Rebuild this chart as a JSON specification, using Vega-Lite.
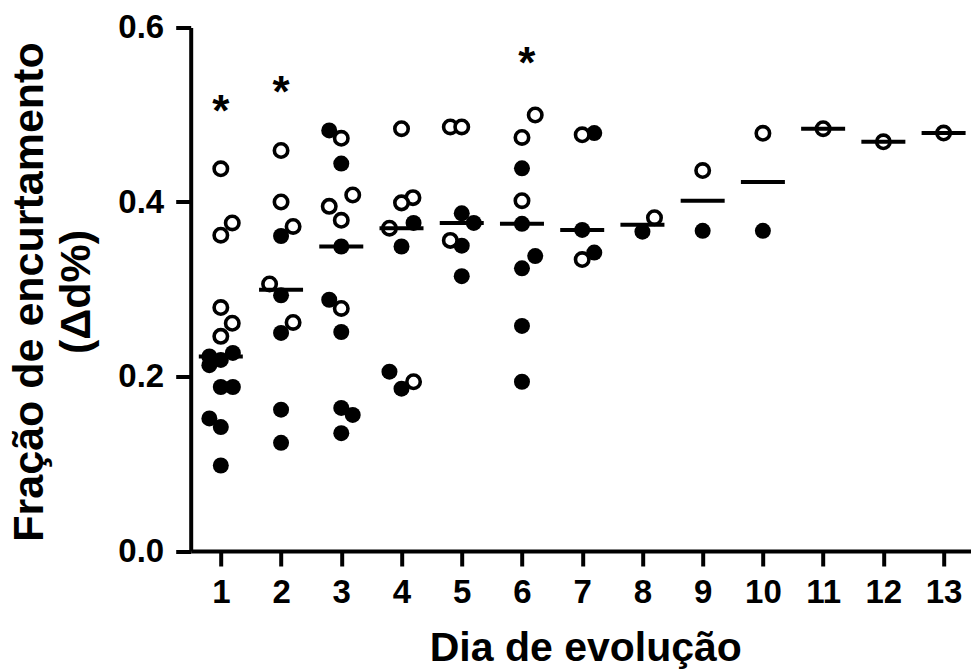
{
  "$schema": "https://vega.github.io/schema/vega-lite/v6.json",
  "autosize": {"type": "none"},
  "width": 780,
  "height": 523.5,
  "padding": {"left": 190.7, "top": 27.5, "right": 0.3, "bottom": 120},
  "background": "white",
  "config": {
    "view": {"stroke": null},
    "font": "Liberation Sans",
    "axis": {
      "domainColor": "black",
      "domainWidth": 4,
      "tickColor": "black",
      "tickWidth": 4,
      "tickSize": 15,
      "grid": false,
      "labelFont": "Liberation Sans",
      "labelFontSize": 33,
      "labelFontWeight": "bold",
      "labelColor": "black",
      "titleFont": "Liberation Sans",
      "titleFontWeight": "bold",
      "titleColor": "black"
    }
  },
  "datasets": {
    "pts": [
      {"day": 1, "pos": 0.81, "value": 0.223, "group": "filled"},
      {"day": 1, "pos": 0.81, "value": 0.213, "group": "filled"},
      {"day": 1, "pos": 1.0, "value": 0.219, "group": "filled"},
      {"day": 1, "pos": 1.2, "value": 0.227, "group": "filled"},
      {"day": 1, "pos": 1.0, "value": 0.188, "group": "filled"},
      {"day": 1, "pos": 1.2, "value": 0.188, "group": "filled"},
      {"day": 1, "pos": 0.81, "value": 0.152, "group": "filled"},
      {"day": 1, "pos": 1.0, "value": 0.142, "group": "filled"},
      {"day": 1, "pos": 1.0, "value": 0.098, "group": "filled"},
      {"day": 1, "pos": 1.0, "value": 0.438, "group": "open"},
      {"day": 1, "pos": 1.19, "value": 0.376, "group": "open"},
      {"day": 1, "pos": 1.0, "value": 0.362, "group": "open"},
      {"day": 1, "pos": 1.0, "value": 0.279, "group": "open"},
      {"day": 1, "pos": 1.19, "value": 0.261, "group": "open"},
      {"day": 1, "pos": 1.0, "value": 0.246, "group": "open"},
      {"day": 2, "pos": 2.0, "value": 0.361, "group": "filled"},
      {"day": 2, "pos": 2.0, "value": 0.293, "group": "filled"},
      {"day": 2, "pos": 2.0, "value": 0.25, "group": "filled"},
      {"day": 2, "pos": 2.0, "value": 0.162, "group": "filled"},
      {"day": 2, "pos": 2.0, "value": 0.124, "group": "filled"},
      {"day": 2, "pos": 2.0, "value": 0.459, "group": "open"},
      {"day": 2, "pos": 2.0, "value": 0.4, "group": "open"},
      {"day": 2, "pos": 2.2, "value": 0.372, "group": "open"},
      {"day": 2, "pos": 1.81, "value": 0.306, "group": "open"},
      {"day": 2, "pos": 2.2, "value": 0.262, "group": "open"},
      {"day": 3, "pos": 2.8, "value": 0.482, "group": "filled"},
      {"day": 3, "pos": 3.0, "value": 0.444, "group": "filled"},
      {"day": 3, "pos": 3.0, "value": 0.349, "group": "filled"},
      {"day": 3, "pos": 2.8, "value": 0.288, "group": "filled"},
      {"day": 3, "pos": 3.0, "value": 0.251, "group": "filled"},
      {"day": 3, "pos": 3.0, "value": 0.164, "group": "filled"},
      {"day": 3, "pos": 3.19, "value": 0.156, "group": "filled"},
      {"day": 3, "pos": 3.0, "value": 0.135, "group": "filled"},
      {"day": 3, "pos": 3.0, "value": 0.473, "group": "open"},
      {"day": 3, "pos": 3.19, "value": 0.408, "group": "open"},
      {"day": 3, "pos": 2.8, "value": 0.395, "group": "open"},
      {"day": 3, "pos": 3.0, "value": 0.379, "group": "open"},
      {"day": 3, "pos": 3.0, "value": 0.278, "group": "open"},
      {"day": 4, "pos": 4.2, "value": 0.376, "group": "filled"},
      {"day": 4, "pos": 4.0, "value": 0.349, "group": "filled"},
      {"day": 4, "pos": 3.8, "value": 0.2055, "group": "filled"},
      {"day": 4, "pos": 4.0, "value": 0.186, "group": "filled"},
      {"day": 4, "pos": 4.0, "value": 0.484, "group": "open"},
      {"day": 4, "pos": 4.19, "value": 0.405, "group": "open"},
      {"day": 4, "pos": 4.0, "value": 0.399, "group": "open"},
      {"day": 4, "pos": 3.8, "value": 0.37, "group": "open"},
      {"day": 4, "pos": 4.2, "value": 0.194, "group": "open"},
      {"day": 5, "pos": 5.0, "value": 0.387, "group": "filled"},
      {"day": 5, "pos": 5.2, "value": 0.376, "group": "filled"},
      {"day": 5, "pos": 5.0, "value": 0.35, "group": "filled"},
      {"day": 5, "pos": 5.0, "value": 0.315, "group": "filled"},
      {"day": 5, "pos": 4.81, "value": 0.486, "group": "open"},
      {"day": 5, "pos": 5.0, "value": 0.486, "group": "open"},
      {"day": 5, "pos": 4.81, "value": 0.356, "group": "open"},
      {"day": 6, "pos": 6.0, "value": 0.4386, "group": "filled"},
      {"day": 6, "pos": 6.0, "value": 0.375, "group": "filled"},
      {"day": 6, "pos": 6.22, "value": 0.338, "group": "filled"},
      {"day": 6, "pos": 6.0, "value": 0.324, "group": "filled"},
      {"day": 6, "pos": 6.0, "value": 0.258, "group": "filled"},
      {"day": 6, "pos": 6.0, "value": 0.194, "group": "filled"},
      {"day": 6, "pos": 6.22, "value": 0.4997, "group": "open"},
      {"day": 6, "pos": 6.0, "value": 0.474, "group": "open"},
      {"day": 6, "pos": 6.0, "value": 0.4015, "group": "open"},
      {"day": 7, "pos": 7.2, "value": 0.479, "group": "filled"},
      {"day": 7, "pos": 7.0, "value": 0.368, "group": "filled"},
      {"day": 7, "pos": 7.2, "value": 0.342, "group": "filled"},
      {"day": 7, "pos": 7.0, "value": 0.477, "group": "open"},
      {"day": 7, "pos": 7.0, "value": 0.334, "group": "open"},
      {"day": 8, "pos": 8.0, "value": 0.366, "group": "filled"},
      {"day": 8, "pos": 8.2, "value": 0.382, "group": "open"},
      {"day": 9, "pos": 9.0, "value": 0.367, "group": "filled"},
      {"day": 9, "pos": 9.0, "value": 0.436, "group": "open"},
      {"day": 10, "pos": 10.0, "value": 0.367, "group": "filled"},
      {"day": 10, "pos": 10.0, "value": 0.4787, "group": "open"},
      {"day": 11, "pos": 11.0, "value": 0.484, "group": "open"},
      {"day": 12, "pos": 12.0, "value": 0.469, "group": "open"},
      {"day": 13, "pos": 13.0, "value": 0.479, "group": "open"}
    ],
    "stars": [
      {"pos": 1.0, "value": 0.515, "label": "*"},
      {"pos": 2.0, "value": 0.536, "label": "*"},
      {"pos": 6.08, "value": 0.57, "label": "*"}
    ]
  },
  "layer": [
    {
      "data": {"name": "pts"},
      "transform": [{"filter": "datum.group === 'filled'"}],
      "mark": {"type": "point", "shape": "circle", "filled": true, "color": "black", "size": 256, "opacity": 1},
      "encoding": {
        "x": {
          "field": "pos", "type": "quantitative",
          "scale": {"domain": [0.5, 13.45], "nice": false, "zero": false},
          "axis": {
            "values": [1, 2, 3, 4, 5, 6, 7, 8, 9, 10, 11, 12, 13],
            "format": "d",
            "domainWidth": 4,
            "tickWidth": 4,
            "tickSize": 15,
            "labelPadding": 10,
            "title": "Dia de evolução",
            "titleFontSize": 41,
            "titleX": 394.6,
            "titleY": 109,
            "titleBaseline": "alphabetic",
            "titleAlign": "center"
          }
        },
        "y": {
          "field": "value", "type": "quantitative",
          "scale": {"domain": [0, 0.6], "nice": false},
          "axis": {
            "values": [0, 0.2, 0.4, 0.6],
            "format": ".1f",
            "domainWidth": 4,
            "tickWidth": 4,
            "tickSize": 15,
            "labelPadding": 12,
            "title": ["Fração de encurtamento", "(Δd%)"],
            "titleFontSize": 43,
            "titleX": -182.5,
            "titleY": 264,
            "titleAngle": -90,
            "titleAlign": "center",
            "titleBaseline": "top",
            "titleLineHeight": 47
          }
        }
      }
    },
    {
      "data": {"name": "pts"},
      "transform": [{"filter": "datum.group === 'open'"}],
      "mark": {"type": "point", "shape": "circle", "filled": false, "fill": "white", "fillOpacity": 1, "stroke": "black", "strokeWidth": 3.6, "size": 180, "opacity": 1},
      "encoding": {
        "x": {"field": "pos", "type": "quantitative"},
        "y": {"field": "value", "type": "quantitative"}
      }
    },
    {
      "data": {"name": "pts"},
      "transform": [{"aggregate": [{"op": "median", "field": "value", "as": "median"}], "groupby": ["day"]}],
      "mark": {"type": "tick", "orient": "horizontal", "color": "black", "size": 44, "thickness": 4, "opacity": 1},
      "encoding": {
        "x": {"field": "day", "type": "quantitative"},
        "y": {"field": "median", "type": "quantitative"}
      }
    },
    {
      "data": {"name": "stars"},
      "mark": {"type": "text", "font": "Liberation Sans", "fontSize": 44, "fontWeight": "bold", "color": "black", "baseline": "middle", "dy": 11},
      "encoding": {
        "x": {"field": "pos", "type": "quantitative"},
        "y": {"field": "value", "type": "quantitative"},
        "text": {"field": "label"}
      }
    }
  ]
}
